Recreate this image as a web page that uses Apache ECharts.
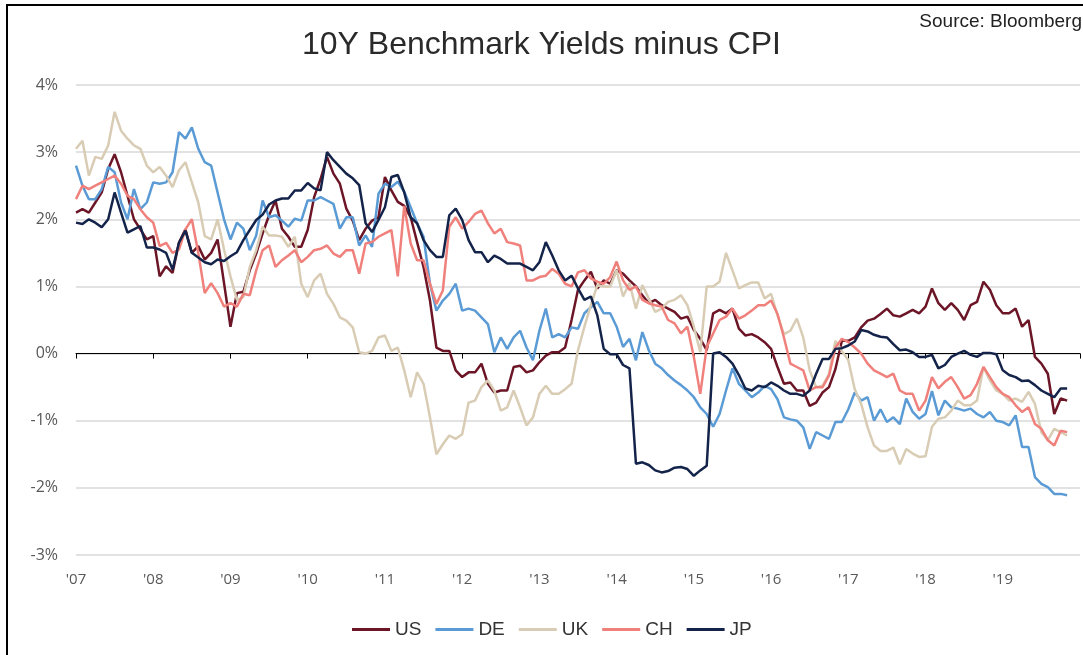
<!DOCTYPE html>
<html>
<head>
<meta charset="utf-8">
<title>10Y Benchmark Yields minus CPI</title>
<script src="https://cdn.jsdelivr.net/npm/echarts@6/dist/echarts.min.js"></script>
<style>
  html, body { margin: 0; padding: 0; background: #fff; }
  #frame {
    position: absolute; left: 6px; top: 4px; width: 1100px; height: 700px;
    border-left: 2px solid #000; border-top: 2px solid #000;
  }
  #chart { position: absolute; left: 0; top: 0; width: 1083px; height: 655px; }
</style>
</head>
<body>
<div id="frame"></div>
<div id="chart"></div>
<script>
// monthly points, Jan 2007 .. Nov 2019 (decimal years)
var months = []
for (var i = 0; i < 155; i++) months.push(2007 + i / 12)

var usValues = [
  2.1, 2.15, 2.1, 2.25, 2.4, 2.75, 2.97, 2.7, 2.35, 2.0, 1.85, 1.7, 1.75, 1.15, 1.3, 1.2, 1.65, 1.85, 1.5, 1.6, 1.4, 1.5, 1.7, 1.05, 0.4, 0.9,
  0.92, 1.24, 1.49, 1.79, 2.06, 2.28, 1.86, 1.74, 1.59, 1.59, 1.84, 2.33, 2.6, 2.93, 2.68, 2.53, 2.16, 1.98, 1.69, 1.86, 1.98, 2.03, 2.63, 2.43, 2.26, 2.2,
  2.03, 1.66, 1.29, 0.79, 0.09, 0.04, 0.04, -0.25, -0.35, -0.28, -0.28, -0.15, -0.45, -0.58, -0.55, -0.55, -0.2, -0.18, -0.28, -0.25, -0.13, -0.03, 0.02, 0.02, 0.09, 0.5, 0.95,
  1.09, 1.22, 0.97, 1.09, 1.04, 1.24, 1.19, 1.09, 1.0, 0.87, 0.75, 0.8, 0.72, 0.67, 0.62, 0.52, 0.55, 0.35, 0.22, 0.05, 0.6, 0.65, 0.6, 0.67, 0.37, 0.27,
  0.29, 0.24, 0.17, 0.07, -0.2, -0.45, -0.43, -0.55, -0.55, -0.78, -0.73, -0.58, -0.5, -0.23, 0.19, 0.19, 0.24, 0.39, 0.49, 0.52, 0.59, 0.67, 0.57,
  0.55, 0.6, 0.65, 0.6, 0.7, 0.97, 0.75, 0.65, 0.75, 0.65, 0.5, 0.72, 0.77, 1.07, 0.95, 0.72, 0.6, 0.6, 0.67, 0.4, 0.5, -0.05, -0.15, -0.3, -0.9, -0.67, -0.7
]
var deValues = [
  2.8, 2.5, 2.3, 2.3, 2.45, 2.78, 2.7, 2.25, 2.0, 2.45, 2.15, 2.25, 2.55, 2.53, 2.55, 2.7, 3.3, 3.2, 3.37, 3.05, 2.85, 2.8, 2.4, 2.0, 1.7, 1.95,
  1.86, 1.54, 1.76, 2.28, 2.03, 2.06, 1.98, 1.89, 2.01, 1.98, 2.28, 2.28, 2.33, 2.28, 2.23, 1.86, 2.03, 2.03, 1.61, 1.76, 1.59, 2.38, 2.53, 2.48, 2.56, 2.41,
  2.18, 1.94, 1.74, 1.04, 0.64, 0.79, 0.89, 1.04, 0.64, 0.67, 0.64, 0.54, 0.44, 0.02, 0.24, 0.07, 0.24, 0.34, 0.09, -0.1, 0.34, 0.67, 0.24, 0.29, 0.24, 0.39, 0.37,
  0.6, 0.69, 0.77, 0.6, 0.6, 0.4, 0.1, 0.22, -0.1, 0.32, 0.05, -0.15, -0.22, -0.32, -0.4, -0.47, -0.55, -0.65, -0.8, -0.9, -1.09, -0.9, -0.55, -0.22, -0.45, -0.55,
  -0.65, -0.58, -0.48, -0.53, -0.68, -0.95, -0.98, -1.0, -1.1, -1.42, -1.17, -1.22, -1.27, -1.02, -1.02, -0.83, -0.58, -0.7, -0.65, -1.0, -0.83, -1.02, -0.95,
  -1.05, -0.67, -0.87, -0.97, -0.9, -0.56, -0.92, -0.7, -0.8, -0.82, -0.85, -0.82, -0.9, -0.95, -0.87, -1.0, -1.02, -1.07, -0.92, -1.39, -1.39, -1.84, -1.94, -1.99, -2.09, -2.09, -2.11
]
var ukValues = [
  3.05, 3.17, 2.65, 2.93, 2.9, 3.1, 3.6, 3.32, 3.2, 3.1, 3.05, 2.8, 2.7, 2.78, 2.65, 2.48, 2.73, 2.85, 2.55, 2.25, 1.75, 1.7, 2.0, 1.55, 1.15, 0.8,
  0.84, 1.29, 1.54, 1.89, 1.76, 1.76, 1.74, 1.59, 1.74, 1.04, 0.84, 1.09, 1.19, 0.89, 0.74, 0.54, 0.49, 0.39, 0.02, 0.0, 0.04, 0.24, 0.27, 0.04, 0.09, -0.25,
  -0.65, -0.28, -0.45, -0.95, -1.5, -1.35, -1.22, -1.27, -1.2, -0.73, -0.7, -0.5, -0.4, -0.55, -0.85, -0.8, -0.55, -0.8, -1.07, -0.95, -0.6, -0.48, -0.6, -0.6, -0.53, -0.45, 0.05,
  0.4, 0.72, 1.02, 1.0, 1.0, 1.24, 0.85, 1.05, 0.67, 1.02, 0.82, 0.62, 0.67, 0.77, 0.8, 0.87, 0.72, 0.4, 0.02, 1.0, 1.0, 1.07, 1.5, 1.24, 0.97, 1.02,
  1.06, 1.06, 0.82, 0.89, 0.57, 0.29, 0.34, 0.52, 0.24, -0.25, -0.5, -0.48, -0.3, 0.19, 0.04, -0.1, -0.53, -0.75, -1.1, -1.37, -1.45, -1.45, -1.4,
  -1.65, -1.42, -1.49, -1.54, -1.53, -1.09, -0.97, -0.95, -0.85, -0.7, -0.77, -0.77, -0.7, -0.2, -0.4, -0.55, -0.6, -0.7, -0.67, -0.72, -0.57, -0.75, -1.17, -1.29, -1.12, -1.17, -1.22
]
var chValues = [
  2.3, 2.5, 2.45, 2.5, 2.55, 2.6, 2.65, 2.53, 2.35, 2.3, 2.15, 2.03, 1.95, 1.6, 1.65, 1.5, 1.55, 1.85, 2.0, 1.5, 0.9, 1.05, 0.9, 0.7, 0.75, 0.7,
  0.89, 0.87, 1.24, 1.54, 1.61, 1.29, 1.39, 1.46, 1.54, 1.36, 1.44, 1.54, 1.56, 1.61, 1.49, 1.44, 1.54, 1.54, 1.19, 1.64, 1.66, 1.74, 1.79, 1.84, 1.15, 2.2,
  1.64, 1.39, 1.39, 1.04, 0.74, 0.94, 1.89, 2.03, 1.86, 1.96, 2.08, 2.13, 1.94, 1.79, 1.86, 1.66, 1.64, 1.61, 1.09, 1.09, 1.14, 1.16, 1.26, 1.19, 1.04, 1.0, 1.21,
  1.24, 1.12, 1.07, 1.04, 1.14, 1.37, 1.09, 0.95, 1.0, 0.8, 0.75, 0.72, 0.7, 0.5, 0.45, 0.3, 0.4, -0.05, -0.6, 0.1, 0.3, 0.5, 0.55, 0.67, 0.52, 0.57,
  0.64, 0.72, 0.72, 0.79, 0.59, 0.24, -0.15, -0.2, -0.25, -0.55, -0.5, -0.5, -0.33, 0.09, 0.22, 0.17, 0.09, 0.0, -0.15, -0.25, -0.3, -0.35, -0.3,
  -0.55, -0.6, -0.6, -0.85, -0.7, -0.35, -0.52, -0.42, -0.35, -0.5, -0.67, -0.62, -0.45, -0.2, -0.35, -0.5, -0.6, -0.65, -0.77, -0.87, -0.8, -1.05, -1.12, -1.29, -1.37, -1.15, -1.17
]
var jpValues = [
  1.95, 1.93, 2.0, 1.95, 1.88, 2.0, 2.4, 2.1, 1.8, 1.85, 1.9, 1.58, 1.58, 1.55, 1.5, 1.25, 1.65, 1.83, 1.5, 1.43, 1.36, 1.33, 1.4, 1.38, 1.45, 1.51,
  1.69, 1.84, 1.99, 2.07, 2.22, 2.28, 2.31, 2.31, 2.43, 2.43, 2.54, 2.46, 2.43, 3.0, 2.88, 2.78, 2.68, 2.61, 2.51, 1.94, 1.81, 1.99, 2.18, 2.63, 2.66, 2.4,
  2.03, 1.94, 1.69, 1.54, 1.44, 1.44, 2.06, 2.16, 1.99, 1.69, 1.51, 1.51, 1.36, 1.46, 1.41, 1.34, 1.34, 1.34, 1.29, 1.24, 1.36, 1.66, 1.46, 1.24, 1.09, 1.16, 0.97,
  0.8, 0.85, 0.57, 0.07, -0.01, -0.01, -0.17, -0.22, -1.64, -1.62, -1.66, -1.74, -1.77, -1.75, -1.7, -1.69, -1.72, -1.82, -1.74, -1.67, 0.0, 0.02, -0.05, -0.15, -0.32, -0.52,
  -0.55, -0.48, -0.5, -0.43, -0.48, -0.55, -0.6, -0.6, -0.63, -0.55, -0.3, -0.08, -0.08, 0.07, 0.08, 0.12, 0.18, 0.35, 0.33, 0.28, 0.25, 0.24, 0.14,
  0.05, 0.06, 0.02, -0.05, -0.05, -0.02, -0.22, -0.17, -0.05, 0.0, 0.04, -0.02, -0.05, 0.01, 0.01, -0.01, -0.25, -0.32, -0.35, -0.41, -0.4, -0.47, -0.55, -0.6, -0.65, -0.52, -0.52
]

var seriesNames = ['US', 'DE', 'UK', 'CH', 'JP']
var seriesColors = ['#6b1526', '#5b9bd5', '#d9ccb4', '#f0807b', '#14234a']
var seriesValues = [usValues, deValues, ukValues, chValues, jpValues]

var chart = echarts.init(document.getElementById('chart'))

var option = {
  animation: false,
  title: [
    {
      text: '10Y Benchmark Yields minus CPI',
      left: 'center',
      top: 24,
      textStyle: { fontFamily: 'Liberation Sans', fontWeight: 'normal', fontSize: 32, color: '#2a2a2a' }
    },
    {
      text: 'Source: Bloomberg',
      right: -4,
      top: 7,
      textStyle: { fontFamily: 'Liberation Sans', fontWeight: 'normal', fontSize: 19, color: '#222' }
    }
  ],
  grid: { left: 76, right: 3, top: 85, bottom: 100 },
  legend: {
    bottom: 11,
    left: 347,
    icon: 'rect',
    itemWidth: 38,
    itemHeight: 3,
    itemGap: 14,
    textStyle: { fontFamily: 'Liberation Sans', fontSize: 19, color: '#333' },
    data: seriesNames
  },
  xAxis: [
    {
      // zero line with year ticks
      type: 'value',
      min: 2007,
      max: 2020,
      interval: 1,
      axisLine: { onZero: true, lineStyle: { color: '#000', width: 1 } },
      axisTick: { show: true, length: 5, lineStyle: { color: '#000' } },
      axisLabel: { show: false },
      splitLine: { show: false }
    },
    {
      // year labels along the bottom
      type: 'value',
      min: 2007,
      max: 2020,
      interval: 1,
      position: 'bottom',
      axisLine: { show: false, onZero: false },
      axisTick: { show: false },
      splitLine: { show: false },
      axisLabel: {
        margin: 17,
        fontFamily: 'Open Sans',
        fontSize: 15,
        color: '#595959',
        formatter: function (v) {
          if (v % 1 !== 0 || v >= 2020) return ''
          return "'" + String(v).slice(2)
        }
      }
    }
  ],
  yAxis: {
    type: 'value',
    min: -3,
    max: 4,
    interval: 1,
    axisLine: { show: false },
    axisTick: { show: false },
    splitLine: { lineStyle: { color: '#d9d9d9', width: 1.5 } },
    axisLabel: {
      formatter: '{value}%',
      margin: 18,
      fontFamily: 'Open Sans',
      fontSize: 16,
      color: '#595959'
    }
  },
  series: seriesNames.map(function (name, k) {
    return {
      name: name,
      type: 'line',
      xAxisIndex: 0,
      showSymbol: false,
      symbol: 'none',
      color: seriesColors[k],
      lineStyle: { width: 2.5, color: seriesColors[k] },
      data: seriesValues[k].map(function (v, i) { return [months[i], v] })
    }
  })
}

chart.setOption(option)
</script>
</body>
</html>
